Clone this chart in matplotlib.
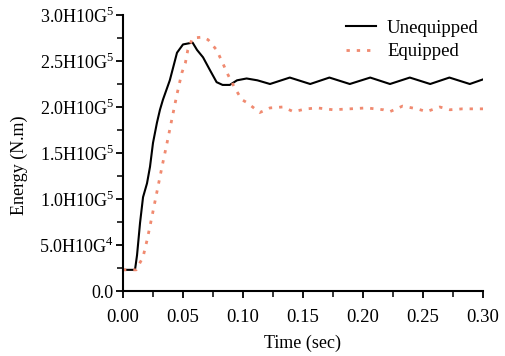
import matplotlib
matplotlib.use("Agg")
import matplotlib.pyplot as plt
from matplotlib.ticker import MultipleLocator

plt.rcParams['font.family'] = ['Liberation Serif', 'DejaVu Serif']
plt.rcParams['mathtext.fontset'] = 'custom'
plt.rcParams['mathtext.rm'] = 'Liberation Serif'

# Unequipped (solid black)
t_uneq = [0.0, 0.010, 0.0117, 0.0142, 0.0167, 0.020, 0.0225, 0.025, 0.0283, 0.0308,
          0.0333, 0.039, 0.045, 0.050, 0.058, 0.0617, 0.0667, 0.0725, 0.078, 0.083,
          0.089, 0.095, 0.103, 0.112, 0.1225, 0.139, 0.156, 0.172, 0.189, 0.206,
          0.2225, 0.239, 0.256, 0.272, 0.289, 0.30]
e_uneq = [23e3, 23e3, 39e3, 74e3, 102e3, 117e3, 135e3, 161e3, 183e3, 197e3,
          208e3, 229e3, 259e3, 268e3, 270e3, 262e3, 254e3, 240e3, 227e3, 224e3,
          224e3, 229e3, 231e3, 229e3, 225e3, 232e3, 225e3, 232e3, 225e3, 232e3,
          225e3, 232e3, 225e3, 232e3, 225e3, 230e3]

# Equipped (dotted orange)
t_eq = [0.0, 0.011, 0.0167, 0.020, 0.024, 0.028, 0.0325, 0.0367, 0.0417, 0.045,
        0.049, 0.052, 0.054, 0.058, 0.0667, 0.071, 0.078, 0.083, 0.0875, 0.093,
        0.099, 0.103, 0.108, 0.114, 0.1225, 0.133, 0.142, 0.153, 0.162, 0.175,
        0.189, 0.203, 0.217, 0.2225, 0.233, 0.245, 0.253, 0.264, 0.2725, 0.283, 0.30]
e_eq = [23e3, 23e3, 37e3, 55e3, 80e3, 106e3, 135e3, 161e3, 193e3, 214e3,
        237e3, 248e3, 262e3, 275e3, 276e3, 273e3, 262e3, 248e3, 235e3, 221e3,
        208e3, 205e3, 200e3, 194e3, 199e3, 200e3, 195e3, 198e3, 199e3, 197e3,
        198e3, 199e3, 197e3, 195e3, 201e3, 198e3, 195e3, 200e3, 197e3, 198e3, 198e3]

y_ticks = [0, 5e4, 1e5, 1.5e5, 2e5, 2.5e5, 3e5]
y_labels = ["0.0", r"5.0H10G$^4$", r"1.0H10G$^5$", r"1.5H10G$^5$",
            r"2.0H10G$^5$", r"2.5H10G$^5$", r"3.0H10G$^5$"]
x_ticks = [0.0, 0.05, 0.10, 0.15, 0.20, 0.25, 0.30]
x_labels = ["0.00", "0.05", "0.10", "0.15", "0.20", "0.25", "0.30"]

fig = plt.figure(figsize=(5.06, 3.56), dpi=100)
ax = fig.add_axes([123 / 506, 1 - 291 / 356, 360 / 506, 276 / 356])

ax.plot(t_uneq, e_uneq, color='black', lw=1.5, label='Unequipped')
ax.plot(t_eq, e_eq, color='#f08a70', lw=2.0, linestyle=(0, (1.2, 2.5)), label='Equipped')

ax.set_xlim(0, 0.30)
ax.set_ylim(0, 3e5)
ax.set_xticks(x_ticks)
ax.set_xticklabels(x_labels)
ax.set_yticks(y_ticks)
ax.set_yticklabels(y_labels)
ax.xaxis.set_minor_locator(MultipleLocator(0.025))
ax.yaxis.set_minor_locator(MultipleLocator(2.5e4))
ax.tick_params(which='major', direction='out', length=5, width=1.3)
ax.tick_params(which='minor', direction='out', length=4, width=1.1)
ax.tick_params(axis='x', labelsize=13.5, pad=8)
ax.tick_params(axis='y', labelsize=13, pad=1.5)
for s in ['top', 'right']:
    ax.spines[s].set_visible(False)
for s in ['left', 'bottom']:
    ax.spines[s].set_linewidth(1.5)

ax.set_xlabel("Time (sec)", fontsize=13, labelpad=6)
ax.set_ylabel("Energy (N.m)", fontsize=13)
ax.yaxis.set_label_coords(-0.265, 0.457)

ax.legend(loc='upper right', bbox_to_anchor=(1.035, 1.045), frameon=False, fontsize=13.5,
          handlelength=1.6, handletextpad=0.6, labelspacing=0.35)

fig.savefig("out.png", dpi=100)
